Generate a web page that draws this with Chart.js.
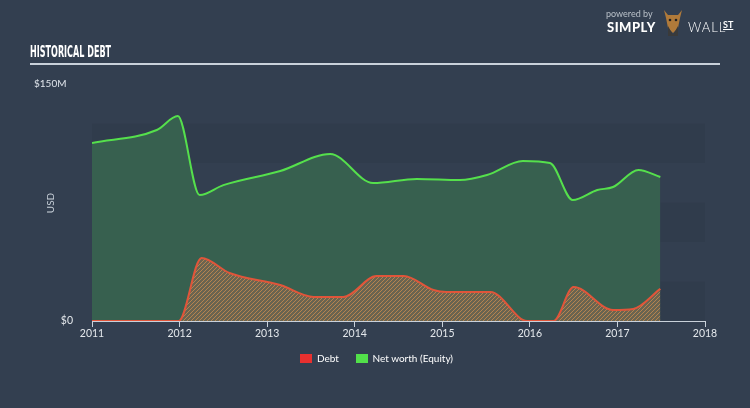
<!DOCTYPE html>
<html>
<head>
<meta charset="utf-8">
<script src="https://cdn.jsdelivr.net/npm/chart.js@4.4.0/dist/chart.umd.min.js"></script>
<style>
  html, body { margin: 0; padding: 0; background: #333f50; }
  #wrap { position: relative; width: 750px; height: 408px; overflow: hidden; }
  #chart { position: absolute; left: 0; top: 0; }
  .title { position: absolute; left: 30px; top: 42px; white-space: nowrap; color: #fff; font: bold 16px 'DejaVu Sans Condensed', sans-serif; transform: scaleX(0.56); transform-origin: left; }
  .rule { position: absolute; left: 30px; top: 63px; width: 690px; height: 2px; background: #c9d1da; }
  .logo-small { position: absolute; left: 606px; top: 8px; color: #b9c0c8; font: 9px Lato, sans-serif; }
  .logo-simply { position: absolute; left: 607px; top: 19px; color: #fff; font: 900 13px Lato, sans-serif; letter-spacing: 0.5px; }
  .logo-wall { position: absolute; left: 688px; top: 19px; color: #fff; font: 300 13px Lato, sans-serif; letter-spacing: 1px; }
  .logo-st { position: absolute; left: 723px; top: 19px; color: #fff; font: bold 9px Lato, sans-serif; text-decoration: underline; }
  .legend { position: absolute; top: 351px; left: 300px; font: 10px Lato, sans-serif; color: #fff; }
  .legend span.box { display: inline-block; width: 12px; height: 9px; vertical-align: middle; margin-right: 5px; }
  .legend span.item { margin-right: 14px; vertical-align: middle; }
</style>
</head>
<body>
<div id="wrap">
  <canvas id="chart" width="750" height="408"></canvas>
  <div class="title">HISTORICAL DEBT</div>
  <div class="rule"></div>
  <div class="logo-small">powered by</div>
  <div class="logo-simply">SIMPLY</div>
  <svg style="position:absolute;left:660px;top:6px" width="26" height="30">
    <path d="M4 4 L8 9 L18 9 L22 4 L20 12 L18 22 L13 27 L8 22 L6 12 Z" fill="#b07a3a"/>
    <path d="M8 20 L13 29 L18 20 L18 30 L8 30 Z" fill="#3a3a3a"/>
    <circle cx="10" cy="14" r="1.3" fill="#222"/><circle cx="16" cy="14" r="1.3" fill="#222"/>
  </svg>
  <div class="logo-wall">WALL</div>
  <div class="logo-st">ST</div>
  <div class="legend">
    <span class="box" style="background:#e8302f"></span><span class="item">Debt</span>
    <span class="box" style="background:#52e04a"></span><span class="item">Net worth (Equity)</span>
  </div>
</div>
<script>
// values in $M, x in decimal years
const debtYears = [2011.0, 2011.99, 2012.25, 2012.57, 2013.15, 2013.53, 2013.87, 2014.25, 2014.56, 2014.9, 2015.05, 2015.55, 2015.97, 2016.27, 2016.5, 2016.95, 2017.18, 2017.49];
const debtValues = [0, 0, 39.9, 30.4, 22.8, 15.2, 15.2, 28.5, 28.5, 19.6, 18.4, 18.4, 0, 0, 21.5, 7.0, 7.6, 20.3];

const equityYears = [2011.0, 2011.74, 2011.98, 2012.23, 2012.5, 2013.15, 2013.72, 2014.21, 2014.71, 2015.2, 2015.51, 2015.92, 2016.23, 2016.49, 2016.77, 2016.95, 2017.24, 2017.49];
const equityValues = [112.7, 120.9, 129.7, 79.7, 86.0, 94.9, 105.7, 87.3, 89.9, 89.2, 92.4, 101.3, 100.0, 76.6, 82.9, 84.8, 95.6, 91.1];

const yearTicks = [2011, 2012, 2013, 2014, 2015, 2016, 2017, 2018];
const yTicks = [0, 150];

function toPoints(xs, ys) {
    return xs.map((x, i) => ({ x: x, y: ys[i] }));
}

function money(v) {
    return '$' + v + (v === 0 ? '' : 'M');
}

// hatched fill for debt
function makeHatch() {
    const c = document.createElement('canvas');
    c.width = 4; c.height = 4;
    const g = c.getContext('2d');
    g.fillStyle = '#6a6450';
    g.fillRect(0, 0, 4, 4);
    g.strokeStyle = '#b5834f';
    g.lineWidth = 1;
    g.beginPath();
    g.moveTo(0, 4); g.lineTo(4, 0);
    g.moveTo(-1, 1); g.lineTo(1, -1);
    g.moveTo(3, 5); g.lineTo(5, 3);
    g.stroke();
    return g.createPattern(c, 'repeat');
}

// faint background bands, USD label and the top tick label (sits left-aligned)
const bandsPlugin = {
    id: 'bands',
    beforeDraw(chart) {
        const ctx = chart.ctx;
        const y = chart.scales.y;
        const x = chart.scales.x;
        ctx.save();
        ctx.fillStyle = 'rgba(0,0,0,0.045)';
        for (let v = 0; v <= 100; v += 50) {
            const top = y.getPixelForValue(v + 25);
            const bot = y.getPixelForValue(v);
            ctx.fillRect(x.left, top, x.right - x.left, bot - top);
        }

        ctx.fillStyle = '#dfe4ea';
        ctx.font = '10px Lato, sans-serif';
        ctx.textBaseline = 'middle';
        ctx.textAlign = 'left';
        const maxV = yTicks[yTicks.length - 1];
        ctx.fillText(money(maxV), 34, y.getPixelForValue(maxV));

        ctx.translate(51, 203);
        ctx.rotate(-Math.PI / 2);
        ctx.fillStyle = '#c9d1da';
        ctx.textAlign = 'center';
        ctx.fillText('USD', 0, 0);
        ctx.restore();
    }
};

const ctx = document.getElementById('chart').getContext('2d');
const chart = new Chart(ctx, {
    type: 'line',
    data: {
        datasets: [
            {
                label: 'Debt',
                data: toPoints(debtYears, debtValues),
                borderColor: '#e0553a',
                borderWidth: 2,
                backgroundColor: makeHatch(),
                fill: 'origin',
                pointRadius: 0,
                cubicInterpolationMode: 'monotone'
            },
            {
                label: 'Net worth (Equity)',
                data: toPoints(equityYears, equityValues),
                borderColor: '#55e04c',
                borderWidth: 2,
                backgroundColor: '#37604f',
                fill: 'origin',
                pointRadius: 0,
                cubicInterpolationMode: 'monotone'
            }
        ]
    },
    options: {
        responsive: false,
        animation: false,
        layout: { padding: { left: 0, right: 45, top: 84, bottom: 57 } },
        plugins: {
            legend: { display: false },
            tooltip: { enabled: false }
        },
        scales: {
            x: {
                type: 'linear',
                min: 2011,
                max: 2018,
                afterBuildTicks: (scale) => { scale.ticks = yearTicks.map(v => ({ value: v })); },
                afterFit: (scale) => { scale.height = 30; },
                ticks: {
                    color: '#e4e8ec',
                    font: { family: 'Lato', size: 10.5 },
                    padding: 0,
                    maxRotation: 0,
                    callback: (v) => String(v)
                },
                grid: { drawOnChartArea: false, drawTicks: true, tickLength: 6, color: '#c9d1da' },
                border: { display: true, color: '#c9d1da', width: 1 }
            },
            y: {
                min: 0,
                max: 150,
                afterBuildTicks: (scale) => { scale.ticks = yTicks.map(v => ({ value: v })); },
                afterFit: (scale) => { scale.width = 92; },
                ticks: {
                    color: '#e4e8ec',
                    font: { family: 'Lato', size: 10.5 },
                    padding: 11,
                    // top label drawn by the plugin
                    callback: (v) => (v === yTicks[yTicks.length - 1] ? '' : money(v))
                },
                grid: { display: false },
                border: { display: false }
            }
        }
    },
    plugins: [bandsPlugin]
});
</script>
</body>
</html>
